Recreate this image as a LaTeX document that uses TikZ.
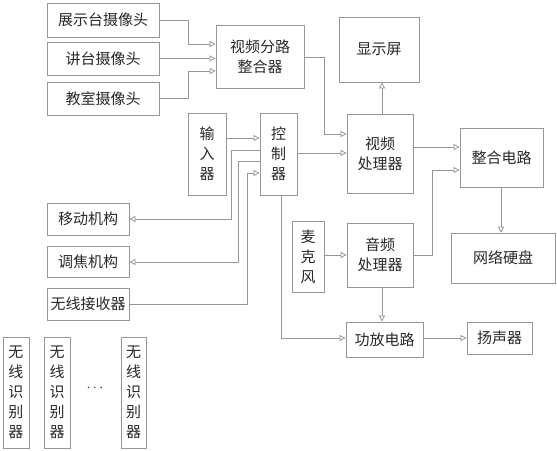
\documentclass[tikz,border=0pt]{standalone}
\usepackage{fontspec}
\newfontfamily\cjk{Noto Sans CJK SC}
\usetikzlibrary{arrows.meta,positioning,calc}
\definecolor{linegray}{RGB}{150,150,150}
\definecolor{txtgray}{RGB}{40,40,40}

\begin{document}
\begin{tikzpicture}[x=1pt,y=-1pt,
      every node/.style={font=\cjk\fontsize{15}{20}\selectfont,text=txtgray},
      blk/.style={draw=linegray,line width=0.8pt,align=center,inner sep=0pt},
      arr/.style={draw=linegray,line width=0.8pt,
                  -{Triangle[open,length=6pt,width=6pt]}}]
    \useasboundingbox (0,0) rectangle (557,450);
    \node[blk,minimum width=112pt,minimum height=34pt] (cam1) at (103,20)    {展示台摄像头};
    \node[blk,minimum width=112pt,minimum height=33pt] (cam2) at (103,58.5)  {讲台摄像头};
    \node[blk,minimum width=112pt,minimum height=33pt] (cam3) at (103,98.5)  {教室摄像头};
    \node[blk,minimum width=88pt,minimum height=63pt]  (split) at (260,56.5) {视频分路\\整合器};
    \node[blk,minimum width=80pt,minimum height=65pt]  (disp) at (379,49.5)  {显示屏};
    \node[blk,minimum width=38pt,minimum height=82pt]  (inp)  at (207,154)   {输\\入\\器};
    \node[blk,minimum width=37pt,minimum height=82pt]  (ctrl) at (278.5,154) {控\\制\\器};
    \node[blk,minimum width=66pt,minimum height=79pt]  (vproc) at (380,153.5) {视频\\处理器};
    \node[blk,minimum width=83pt,minimum height=59pt]  (merge) at (501.5,157.5) {整合电路};
    \node[blk,minimum width=82pt,minimum height=32pt]  (move) at (88,219)    {移动机构};
    \node[blk,minimum width=82pt,minimum height=31pt]  (focus) at (88,261.5) {调焦机构};
    \node[blk,minimum width=82pt,minimum height=32pt]  (recv) at (88,304)    {无线接收器};
    \node[blk,minimum width=32pt,minimum height=71pt]  (mic)  at (308,256.5) {麦\\克\\风};
    \node[blk,minimum width=66pt,minimum height=64pt]  (aproc) at (380,255)  {音频\\处理器};
    \node[blk,minimum width=104pt,minimum height=50pt] (disk) at (503,258)   {网络硬盘};
    \node[blk,minimum width=77pt,minimum height=35pt]  (amp)  at (384.5,339.5) {功放电路};
    \node[blk,minimum width=65pt,minimum height=32pt]  (spk)  at (499.5,338) {扬声器};
    \node[blk,minimum width=26pt,minimum height=111pt] (id1)  at (16,392.5)  {无\\线\\识\\别\\器};
    \node[blk,minimum width=26pt,minimum height=111pt] (id2)  at (57,392.5)  {无\\线\\识\\别\\器};
    \node[blk,minimum width=25pt,minimum height=111pt] (id3)  at (133.5,392.5) {无\\线\\识\\别\\器};
    \node (dots) at (95,388) {$\cdots$};
    \draw[arr] (cam1.east) -| (188,44) -- (split.west |- 0,44);
    \draw[arr] (cam2.east) -- (split.west |- cam2.east);
    \draw[arr] (cam3.east) -| (188,71) -- (split.west |- 0,71);
    \draw[arr] (split.east |- 0,57) -| (324,134) -- (vproc.west |- 0,134);
    \draw[arr] (inp.east |- 0,138) -- (ctrl.west |- 0,138);
    \draw[arr] (ctrl.east |- 0,153) -- (vproc.west |- 0,153);
    \draw[arr] (vproc.north -| 382,0) -- (disp.south -| 382,0);
    \draw[arr] (vproc.east |- 0,147) -- (merge.west |- 0,147);
    \draw[arr] (aproc.east) -| (432,170) -- (merge.west |- 0,170);
    \draw[arr] (merge.south -| 501,0) -- (disk.north -| 501,0);
    \draw[arr] (mic.east |- aproc.west) -- (aproc.west);
    \draw[arr] (aproc.south -| 382,0) -- (amp.north -| 382,0);
    \draw[arr] (ctrl.south -| 281,0) |- (amp.west |- 0,338);
    \draw[arr] (amp.east |- 0,338) -- (spk.west |- 0,338);
    \draw[arr] (ctrl.west |- 0,150) -| (231,219) -- (move.east |- 0,219);
    \draw[arr] (ctrl.west |- 0,161) -| (238,262) -- (focus.east |- 0,262);
    \draw[arr] (recv.east) -| (247,173) -- (ctrl.west |- 0,173);
  \end{tikzpicture}
\end{document}
